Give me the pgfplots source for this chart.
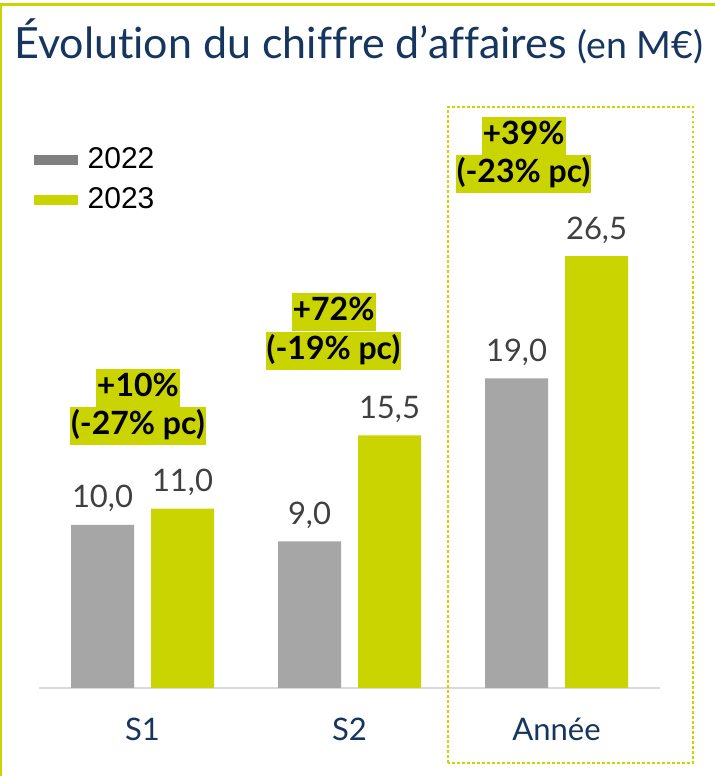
\documentclass[border=0pt]{standalone}
\usepackage{fontspec}
\setmainfont{Lato}[Ligatures=NoCommon]
\newfontfamily\arialf{Liberation Sans}
\usepackage{pgfplots}
\pgfplotsset{compat=1.18}
\definecolor{lime}{RGB}{202,212,0}
\definecolor{bargray}{RGB}{166,166,166}
\definecolor{leggray}{RGB}{127,127,127}
\definecolor{navy}{RGB}{22,54,96}
\definecolor{valgray}{RGB}{64,64,64}
\definecolor{axgray}{RGB}{217,217,217}
\begin{document}
\begin{tikzpicture}[x=1bp,y=1bp,
  ann/.style={fill=lime, text=black, font=\bfseries\fontsize{32bp}{36bp}\selectfont, inner xsep=1bp, inner ysep=3.5bp, text height=24bp, text depth=7bp}]
\path[use as bounding box, fill=white] (0,0) rectangle (715,776);
\fill[lime] (0,770) rectangle (715,773);
\fill[lime] (0,0) rectangle (2,773);
\node[anchor=base west, inner sep=0pt, text=navy, font=\fontsize{43bp}{47bp}\selectfont] at (14,717) {Évolution du chiffre d’affaires {\fontsize{37.5bp}{41bp}\selectfont(en M€)}};
\begin{axis}[
  at={(39bp,88bp)}, anchor=south west,
  x=207bp, y=16.3bp,
  xmin=-0.5, xmax=2.5, ymin=0, ymax=40,
  enlargelimits=false, clip=false,
  ybar=17bp, bar width=63bp,
  axis y line=none, axis x line*=bottom,
  x axis line style={-, draw=axgray, line width=2bp},
  xtick={0,1,2}, xticklabels={S1,S2,Année},
  major tick length=0pt,
  xticklabel style={text=navy, font=\fontsize{31bp}{35bp}\selectfont, anchor=base, yshift=-52bp},
  /pgf/number format/.cd, use comma, fixed, fixed zerofill, precision=1, assume math mode=true,
  /pgfplots/.cd,
  point meta=y,
  nodes near coords,
  nodes near coords style={font=\fontsize{31bp}{35bp}\selectfont, text=valgray, anchor=base, inner sep=0pt, yshift=17bp},
  legend cell align=left,
  legend style={at={(axis cs:-0.5266,33.19)}, anchor=north west, draw=none, fill=none, inner sep=0pt,
    font=\arialf\fontsize{30bp}{34bp}\selectfont,
    nodes={inner xsep=10bp, inner ysep=0bp, text height=21bp, text depth=0bp}, row sep=19bp},
]
\addplot[fill=bargray, draw=none, legend image code/.code={\fill[leggray] (0bp,-7.5bp) rectangle (44bp,2.5bp);}]
  coordinates {(0,10.0) (1,9.0) (2,19.0)};
\addlegendentry{2022}
\addplot[fill=lime, draw=none, legend image code/.code={\fill[lime] (0bp,-7.5bp) rectangle (44bp,2.5bp);}]
  coordinates {(0,11.0) (1,15.5) (2,26.5)};
\addlegendentry{2023}
\node[ann] (a1) at (axis cs:-0.022,18.4) {+10\%};
\node[ann, anchor=north] at (a1.south) {(-27\% pc)};
\node[ann] (a2) at (axis cs:0.923,23.04) {+72\%};
\node[ann, anchor=north] at (a2.south) {(-19\% pc)};
\node[ann] (a3) at (axis cs:1.841,33.87) {+39\%};
\node[ann, anchor=north] at (a3.south) {(-23\% pc)};
\end{axis}
\draw[lime, line width=2.5bp, dash pattern=on 2.5bp off 2.5bp] (448,13) rectangle (693,669);
\end{tikzpicture}
\end{document}
